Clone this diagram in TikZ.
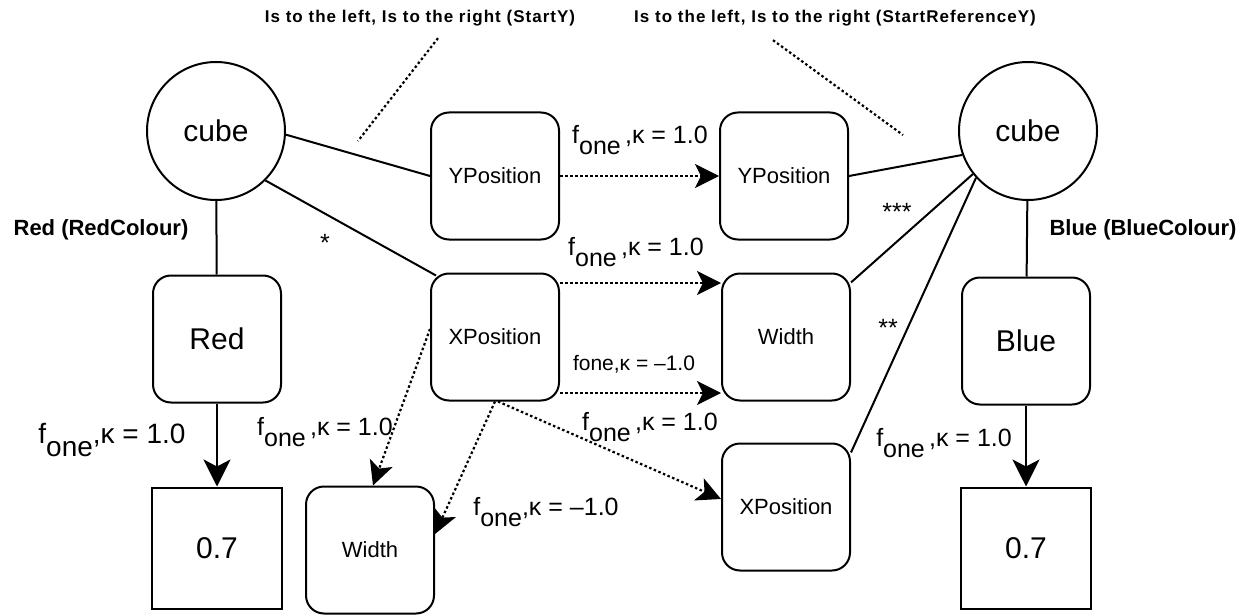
\documentclass[tikz,border=0pt]{standalone}
\usepackage{fontspec}
\setmainfont{Liberation Sans}
\usetikzlibrary{arrows.meta}

% f with a lowered "one"
\newcommand\fsub{f\raisebox{-0.45em}{one}}

\begin{document}
\begin{tikzpicture}[x=1pt,y=-1pt,
  every node/.style={font=\fontsize{22}{24}\selectfont},
  box/.style={draw, line width=2pt, rounded corners=18pt, minimum width=128pt,
              minimum height=127pt, inner sep=0pt},
  sq/.style={draw, line width=2pt, minimum width=130pt, minimum height=121pt,
             inner sep=0pt, font=\fontsize{30}{32}\selectfont},
  ball/.style={draw, circle, line width=2pt, minimum size=138pt, inner sep=0pt,
               font=\fontsize{30}{32}\selectfont},
  big/.style={font=\fontsize{30}{32}\selectfont},
  link/.style={line width=2pt},
  head/.style={-{Stealth[length=27pt,width=27pt,inset=7pt]}},
  flow/.style={line width=2.2pt, dash pattern=on 2.5pt off 2.5pt,
               -{Stealth[length=24pt,width=24pt,inset=6pt]}},
  note/.style={line width=2.2pt, dash pattern=on 2.5pt off 2.5pt},
  lbl/.style={inner sep=0pt, font=\fontsize{25}{27}\selectfont},
  toplbl/.style={inner sep=0pt,
                 font=\fontsize{17}{19}\selectfont\bfseries\addfontfeature{LetterSpace=6}},
  side/.style={inner sep=0pt, font=\fontsize{22}{24}\selectfont\bfseries},
]
\useasboundingbox (0,0) rectangle (1253,615);

% circles
\node[ball] (cubeL) at (216,131) {cube};
\node[ball] (cubeR) at (1028,131) {cube};

% boxes
\node[box, big] (red)  at (217,339) {Red};
\node[sq]       (vL)   at (217,548) {0.7};
\node[box]      (yl)   at (495,176) {YPosition};
\node[box]      (xl)   at (495,337) {XPosition};
\node[box]      (wb)   at (370,550) {Width};
\node[box]      (yr)   at (784,176) {YPosition};
\node[box]      (wr)   at (786,337) {Width};
\node[box]      (xr)   at (786,507) {XPosition};
\node[box, big] (blue) at (1026,341) {Blue};
\node[sq]       (vR)   at (1026,548) {0.7};

% solid links
\draw[link] (cubeL.-3) -- (yl.west);
\draw[link] (cubeL.-45) -- ([xshift=6pt,yshift=-3pt]xl.north west);
\draw[link] (cubeL) -- (red);
\draw[link, head] (red) -- (vL);
\draw[link] (yr.east) -- (cubeR.200);
\draw[link] (wr.40) -- (cubeR.218);
\draw[link] (xr.40) -- (cubeR.222);
\draw[link] (cubeR) -- (blue);
\draw[link, head] (blue) -- (vR);

% dotted flows
\draw[flow] (yl.east) -- (yr.west);
\draw[flow] ([yshift=54pt]xl.east) -- ([yshift=54pt]wr.west);
\draw[flow] ([yshift=-56pt]xl.east) -- ([yshift=-56pt]wr.west);
\draw[flow] ([xshift=3pt]xl.south) -- ([yshift=8pt]xr.west);
\draw[flow] ([yshift=8pt]xl.west) -- ([xshift=3pt]wb.north);
\draw[flow] (xl.south) -- ([yshift=16pt]wb.east);

% labels
\node[lbl] (l1) at (640,140) {\fsub\,,κ = 1.0};
\node[lbl] (l2) at (636,252) {\fsub\,,κ = 1.0};
\node[lbl, font=\fontsize{21}{23}\selectfont] (l3) at (634,364) {fone,κ = –1.0};
\node[lbl] (l4) at (650,427) {\fsub\,,κ = 1.0};
\node[lbl] (l5) at (325,432) {\fsub\,,κ = 1.0};
\node[lbl] (l6) at (546,512) {\fsub,κ = –1.0};
\node[lbl, font=\fontsize{28}{30}\selectfont] (l7) at (112,440) {\fsub,κ = 1.0};
\node[lbl] (l8) at (944,443) {\fsub\,,κ = 1.0};

\node[side] (redlbl)  at (101,230) {Red (RedColour)};
\node[side] (bluelbl) at (1143,230) {Blue (BlueColour)};

\node[lbl] (s1) at (325,243) {*};
\node[lbl] (s3) at (897,212) {***};
\node[lbl] (s2) at (888,328) {**};

% annotations above
\node[toplbl] (t1) at (420,18) {Is to the left, Is to the right (StartY)};
\node[toplbl] (t2) at (835,18) {Is to the left, Is to the right (StartReferenceY)};
\coordinate (p1) at (358,141);
\coordinate (p2) at (903,135);
\draw[note] ([xshift=18pt,yshift=-12pt]t1.south) -- (p1);
\draw[note] ([xshift=-62pt,yshift=-14pt]t2.south) -- (p2);
\end{tikzpicture}
\end{document}
